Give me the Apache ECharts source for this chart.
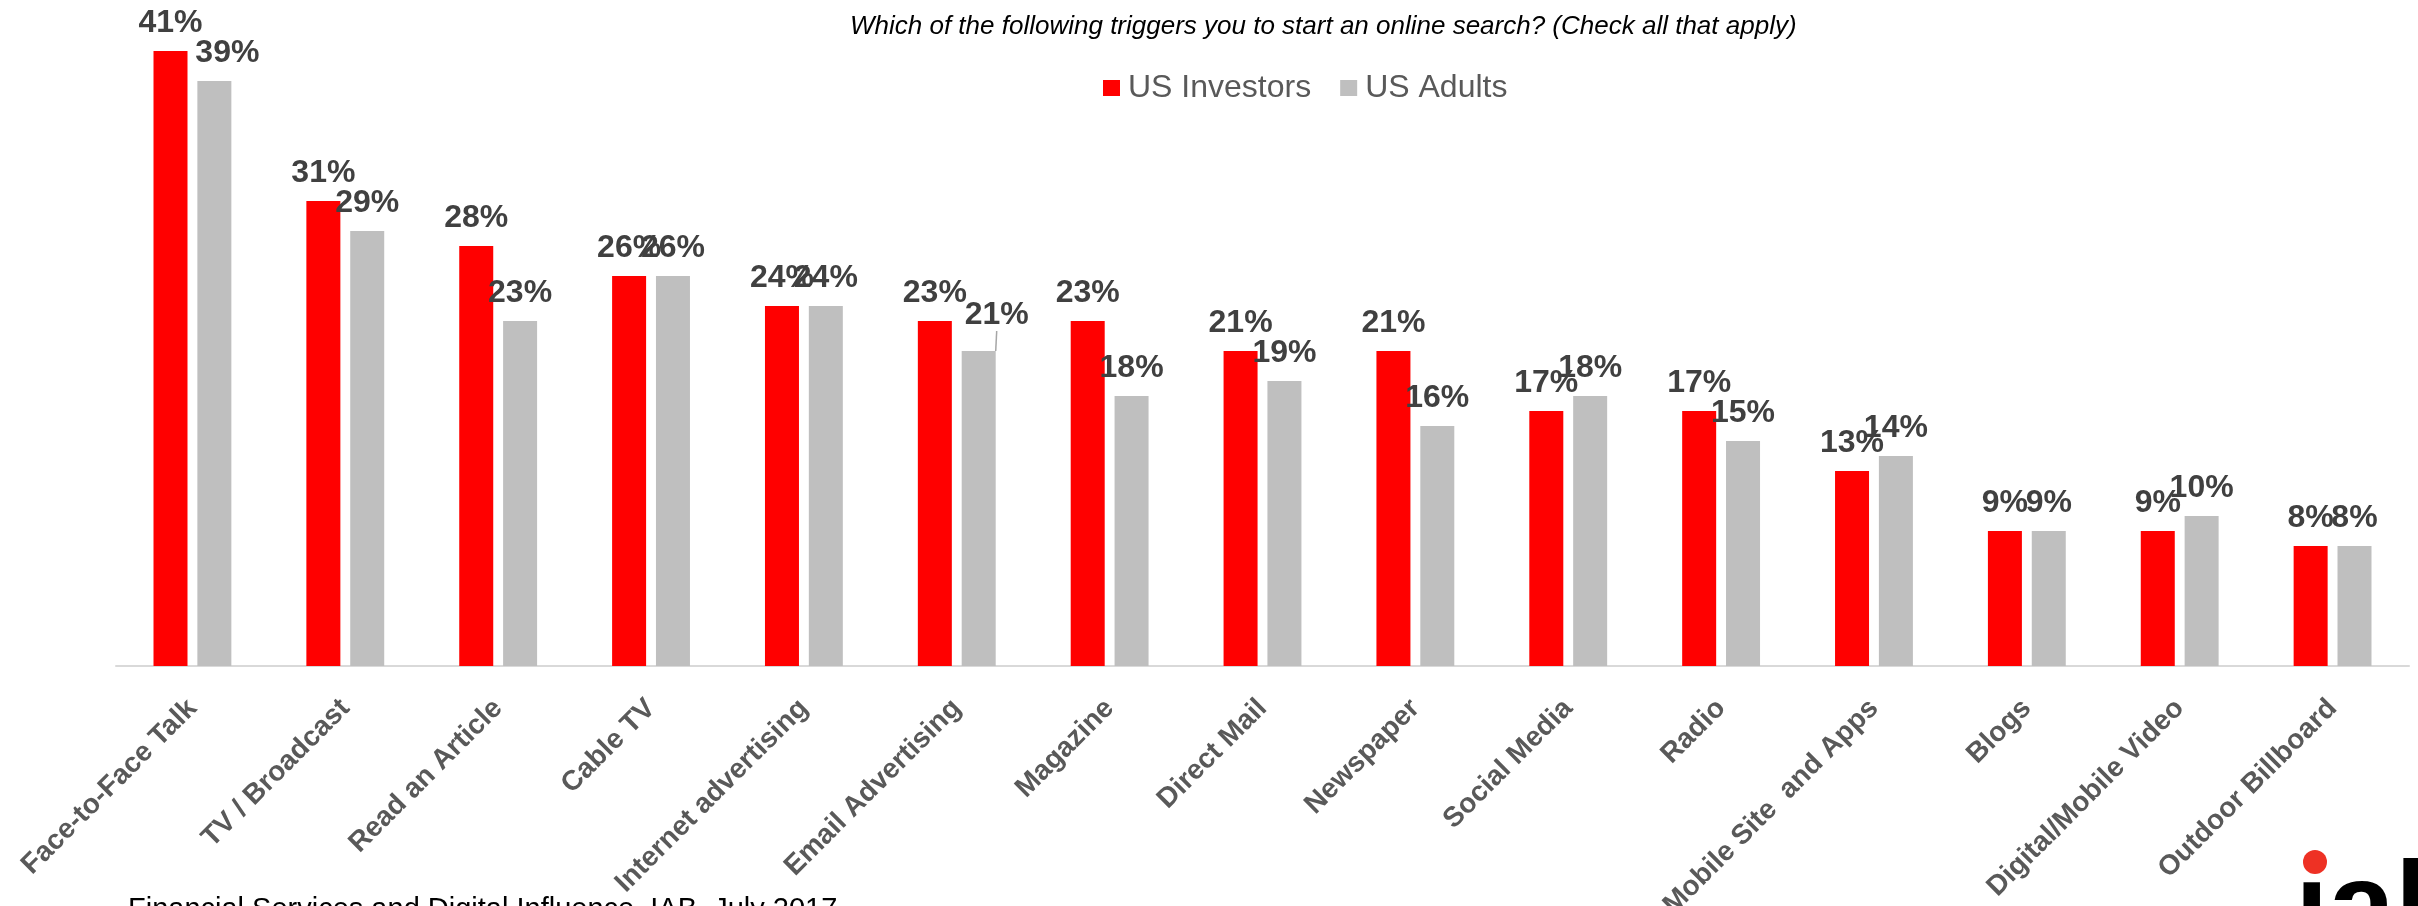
<!DOCTYPE html>
<html>
<head>
<meta charset="utf-8">
<script src="https://cdn.jsdelivr.net/npm/echarts@6/dist/echarts.min.js"></script>
<style>
  html, body { margin: 0; padding: 0; background: #fff; }
  #chart { width: 2418px; height: 906px; }
</style>
</head>
<body>
<div id="chart"></div>
<script>
// Survey answers: what triggers an online search
const categories = [
  'Face-to-Face Talk', 'TV / Broadcast', 'Read an Article', 'Cable TV',
  'Internet advertising', 'Email Advertising', 'Magazine', 'Direct Mail',
  'Newspaper', 'Social Media', 'Radio', 'Mobile Site  and Apps', 'Blogs',
  'Digital/Mobile Video', 'Outdoor Billboard'
];
const usInvestors = [41, 31, 28, 26, 24, 23, 23, 21, 21, 17, 17, 13, 9, 9, 8];
const usAdults    = [39, 29, 23, 26, 24, 21, 18, 19, 16, 18, 15, 14, 9, 10, 8];
const seriesNames = ['US Investors', 'US Adults'];
const titleText = 'Which of the following triggers you to start an online search? (Check all that apply)';
const sourceText = 'Financial Services and Digital Influence, IAB, July 2017';

const FONT = 'Arial, "Liberation Sans", sans-serif';

const labelStyle = {
  show: true,
  position: 'top',
  distance: 12,
  formatter: p => p.value + '%',
  fontFamily: FONT,
  fontSize: 32,
  fontWeight: 'bold',
  color: '#404040'
};

// the Email Advertising label for US Adults sits off its bar with a guide line
const adultsData = usAdults.map((v, i) => i === 5
  ? { value: v, labelLine: { show: true, lineStyle: { color: '#A6A6A6', width: 1.5 } } }
  : v);

const chart = echarts.init(document.getElementById('chart'), null, { renderer: 'canvas' });

chart.setOption({
  animation: false,
  backgroundColor: '#ffffff',
  title: {
    text: titleText,
    left: 845,
    top: 9,
    textStyle: {
      fontFamily: FONT,
      fontSize: 26,
      fontStyle: 'italic',
      fontWeight: 'normal',
      color: '#000000'
    }
  },
  legend: {
    data: seriesNames,
    left: 1098,
    top: 67,
    itemWidth: 17,
    itemHeight: 16,
    itemGap: 29,
    icon: 'rect',
    textStyle: {
      fontFamily: FONT,
      fontSize: 32,
      color: '#595959',
      padding: [0, 0, 0, 3]
    }
  },
  grid: {
    left: 116,
    right: 9,
    top: 6,
    bottom: 240,
    containLabel: false,
    outerBoundsMode: 'none'
  },
  xAxis: {
    type: 'category',
    data: categories,
    axisLine: { show: true, lineStyle: { color: '#D9D9D9', width: 2 } },
    axisTick: { show: false },
    axisLabel: {
      interval: 0,
      rotate: 45,
      margin: 38,
      fontFamily: FONT,
      fontSize: 28,
      fontWeight: 'bold',
      color: '#595959'
    }
  },
  yAxis: {
    type: 'value',
    min: 0,
    max: 44,
    show: false,
    splitLine: { show: false }
  },
  series: [
    {
      name: seriesNames[0],
      type: 'bar',
      data: usInvestors,
      barWidth: 34,
      barGap: '29%',
      itemStyle: { color: '#FF0000' },
      label: labelStyle
    },
    {
      name: seriesNames[1],
      type: 'bar',
      data: adultsData,
      barWidth: 34,
      itemStyle: { color: '#BFBFBF' },
      label: labelStyle,
      labelLayout: p => {
        if (p.dataIndex === 5) return { dx: 18, dy: -8 };
        if (p.dataIndex === 0) return { dx: 13 };
        return {};
      }
    }
  ],
  graphic: [
    {
      type: 'text',
      left: 128,
      top: 895,
      style: {
        text: sourceText,
        font: '29px ' + FONT,
        fill: '#000000'
      }
    },
    {
      type: 'circle',
      shape: { cx: 2315, cy: 862, r: 12 },
      style: { fill: '#EE3124' }
    },
    {
      type: 'text',
      x: 2295,
      y: 853,
      style: {
        text: '\u0131ab',
        font: 'bold 120px ' + FONT,
        fill: '#000000',
        textVerticalAlign: 'top'
      }
    }
  ]
});
</script>
</body>
</html>
